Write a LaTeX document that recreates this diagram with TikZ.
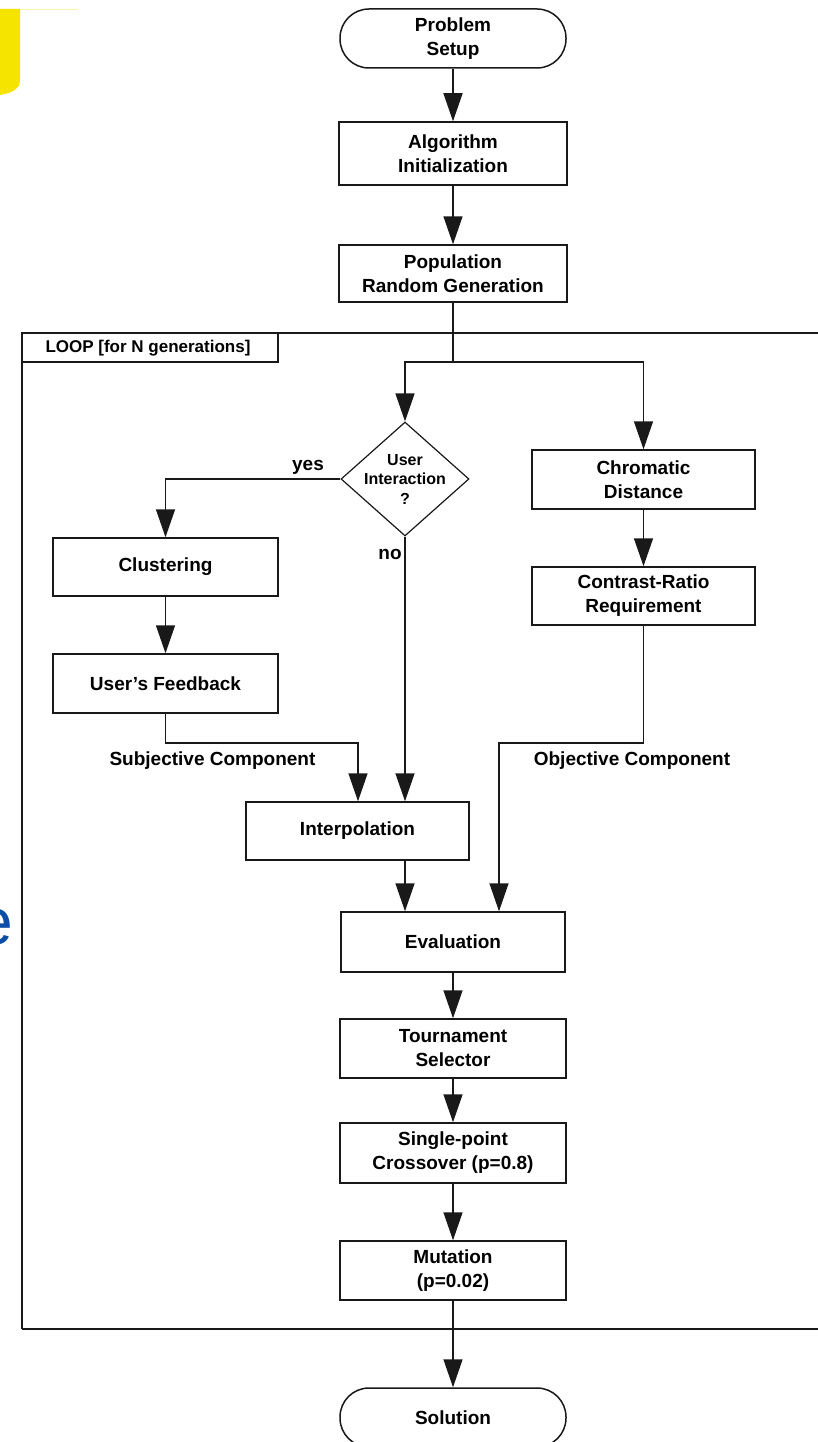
\documentclass[tikz,border=0pt]{standalone}
\usepackage{fontspec}
\setmainfont{Liberation Sans}
\usetikzlibrary{arrows.meta,shapes.geometric,calc}
\definecolor{slideyellow}{RGB}{244,228,0}
\definecolor{paleyellow}{RGB}{250,244,170}
\definecolor{slideblue}{RGB}{12,78,165}
\definecolor{ink}{RGB}{25,25,25}
\tikzset{
  boxstyle/.style={draw=ink, line width=1.5pt, rectangle, inner sep=0pt, align=center,
    font=\fontsize{19}{24}\selectfont\bfseries},
  termstyle/.style={boxstyle, rounded corners=29pt},
  arr/.style={draw=ink, line width=1.5pt, -{Triangle[length=28pt,width=19pt]}},
  plainline/.style={draw=ink, line width=1.5pt},
  lbl/.style={inner sep=0pt, font=\fontsize{19}{22}\selectfont\bfseries}
}
\begin{document}
\begin{tikzpicture}[x=1pt,y=-1pt]
\path[use as bounding box] (0,0) rectangle (818,1442);
\clip (0,0) rectangle (818,1442);
\fill[white] (0,0) rectangle (818,1442);

% slide decorations
\fill[slideyellow] (0,9) -- (20,9) -- (20,80) .. controls (20,89) and (12,93) .. (0,95) -- cycle;
\draw[paleyellow, line width=0.8pt] (20,9) -- (78,9);
\node[anchor=base east, inner sep=0pt, text=slideblue, font=\fontsize{66}{66}\selectfont] (bluee) at (13,944) {e};

% loop frame
\draw[plainline] (22,1329) -- (22,333) -- (840,333);
\draw[plainline] (22,1329) -- (840,1329);
\draw[plainline] (22,362) -- (278,362) -- (278,333);
\node[lbl, font=\fontsize{17}{20}\selectfont\bfseries] (looplbl) at (148,348) {LOOP [for N generations]};

% nodes
\node[termstyle, minimum width=226pt, minimum height=59pt] (setup) at (453,38.5) {Problem\\Setup};
\node[boxstyle, minimum width=228pt, minimum height=63pt] (alg) at (453,153.5) {Algorithm\\Initialization};
\node[boxstyle, minimum width=228pt, minimum height=57pt] (pop) at (453,273.5) {Population\\Random Generation};
\node[diamond, draw=ink, line width=1.2pt, minimum width=128pt, minimum height=114pt, inner sep=0pt] (ui) at (405,479) {};
\node[align=center, inner sep=0pt, font=\fontsize{16}{19.5}\selectfont\bfseries] (uitext) at (405,479) {User\\Interaction\\?};
\node[boxstyle, minimum width=225pt, minimum height=58pt] (clus) at (165.5,567) {Clustering};
\node[boxstyle, minimum width=225pt, minimum height=59pt] (fb) at (165.5,683.5) {User's Feedback};
\node[boxstyle, minimum width=223pt, minimum height=59pt] (chrom) at (643.5,479.5) {Chromatic\\Distance};
\node[boxstyle, minimum width=223pt, minimum height=58pt] (contr) at (643.5,596) {Contrast-Ratio\\Requirement};
\node[boxstyle, minimum width=223pt, minimum height=58pt] (interp) at (357.5,831) {Interpolation};
\node[boxstyle, minimum width=224pt, minimum height=60pt] (eval) at (453,942) {Evaluation};
\node[boxstyle, minimum width=226pt, minimum height=59pt] (tour) at (453,1048.5) {Tournament\\Selector};
\node[boxstyle, minimum width=226pt, minimum height=60pt] (cross) at (453,1153) {Single-point\\Crossover (p=0.8)};
\node[boxstyle, minimum width=226pt, minimum height=59pt] (mut) at (453,1270.5) {Mutation\\(p=0.02)};
\node[termstyle, minimum width=226pt, minimum height=59pt] (sol) at (453,1417.5) {Solution};

% helper coordinates
\coordinate (split) at (453,362);
\coordinate (subj) at (358,743);
\coordinate (objc) at (499,743);

% connectors
\draw[arr] (setup.south) -- (alg.north);
\draw[arr] (alg.south) -- (pop.north);
\draw[plainline] (pop.south) -- (split);
\draw[arr] (split) -| (ui.north);
\draw[arr] (split) -| (chrom.north);
\draw[arr] (ui.west) -| (clus.north);
\draw[arr] (clus.south) -- (fb.north);
\draw[arr] (ui.south) -- (ui.south |- interp.north);
\draw[arr] (fb.south) |- (subj) -- (subj |- interp.north);
\draw[arr] (chrom.south) -- (contr.north);
\draw[arr] (contr.south) |- (objc) -- (objc |- eval.north);
\draw[arr] (ui.south |- interp.south) -- (ui.south |- eval.north);
\draw[arr] (eval.south) -- (tour.north);
\draw[arr] (tour.south) -- (cross.north);
\draw[arr] (cross.south) -- (mut.north);
\draw[arr] (mut.south) -- (sol.north);

% labels
\node[lbl] (yeslbl) at (308,467) {yes};
\node[lbl] (nolbl) at (390,554) {no};
\node[lbl] (subjlbl) at (212.5,761) {Subjective Component};
\node[lbl] (objlbl) at (632,761) {Objective Component};
\end{tikzpicture}
\end{document}
